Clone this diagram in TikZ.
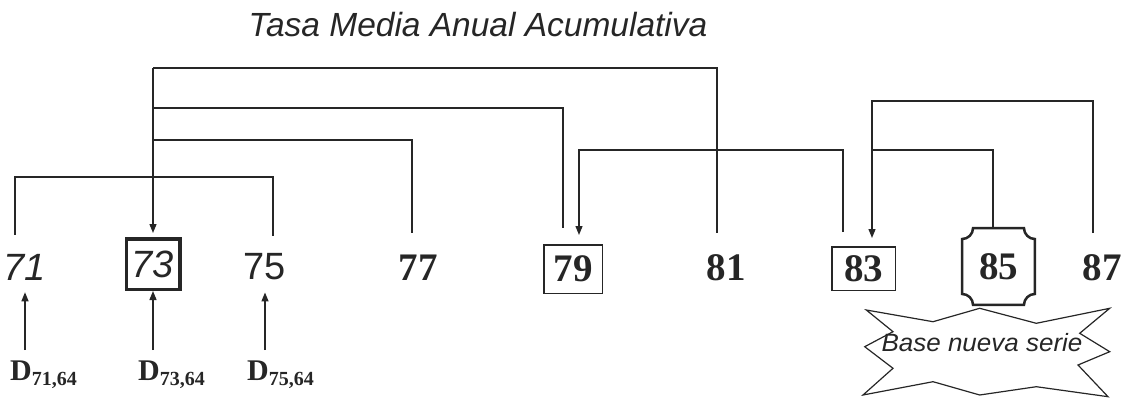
\documentclass[tikz,border=0pt]{standalone}
\usepackage{fontspec}
\setmainfont{Liberation Serif}
\newfontfamily\hsans{Liberation Sans}
\newfontfamily\hsansw[FakeStretch=1.04]{Liberation Sans}
\usetikzlibrary{arrows.meta}
\begin{document}
\begin{tikzpicture}[x=1pt,y=-1pt,
  wire/.style={line width=1.3pt, draw=black!85},
  arr/.style={wire, -{Triangle[length=9pt,width=7pt]}},
  sansit/.style={font=\fontsize{38}{38}\hsans\itshape, text=black!85, inner sep=0pt},
  sansup/.style={font=\fontsize{38}{38}\hsans, text=black!85, inner sep=0pt},
  serifnum/.style={font=\fontsize{39}{39}\selectfont\bfseries, text=black!85, inner sep=0pt},
  dlab/.style={font=\fontsize{30}{30}\selectfont\bfseries, text=black!85, inner sep=0pt, anchor=base west},
  boxthin/.style={draw=black!85, line width=1.5pt},
]
\useasboundingbox (0,0) rectangle (1123,398);

% title
\node[font=\fontsize{33.5}{33.5}\hsans\itshape, text=black!85, inner sep=0pt] (title) at (478,25) {Tasa Media Anual Acumulativa};

% year nodes
\node[sansit] (n71) at (25,267) {71};
\node[sansit, draw=black!85, line width=3.5pt, minimum width=53.5pt, minimum height=50.5pt] (n73) at (153,264) {73};
\node[sansup] (n75) at (265,267) {75};
\node[serifnum] (n77) at (418,267.5) {77};
\node[serifnum, boxthin, minimum width=58.5pt, minimum height=48.5pt] (n79) at (573,269) {79};
\node[serifnum] (n81) at (726,267.5) {81};
\node[serifnum, boxthin, minimum width=63.5pt, minimum height=43.5pt] (n83) at (863.5,268.5) {83};
\node[serifnum, minimum width=72.5pt, minimum height=76.5pt] (n85) at (998.5,266.5) {85};
\node[serifnum] (n87) at (1102,267.5) {87};

% octagon around 85
\def\rr{11pt}\def\cc{6pt}
\draw[line width=2.5pt, draw=black!85]
 ([xshift=\rr]n85.north west) -- ([xshift=-\rr]n85.north east)
 .. controls ([xshift=-\rr,yshift=-\cc]n85.north east) and ([xshift=-\cc,yshift=-\rr]n85.north east) .. ([yshift=-\rr]n85.north east)
 -- ([yshift=\rr]n85.south east)
 .. controls ([xshift=-\cc,yshift=\rr]n85.south east) and ([xshift=-\rr,yshift=\cc]n85.south east) .. ([xshift=-\rr]n85.south east)
 -- ([xshift=\rr]n85.south west)
 .. controls ([xshift=\rr,yshift=\cc]n85.south west) and ([xshift=\cc,yshift=\rr]n85.south west) .. ([yshift=\rr]n85.south west)
 -- ([yshift=-\rr]n85.north west)
 .. controls ([xshift=\cc,yshift=-\rr]n85.north west) and ([xshift=\rr,yshift=-\cc]n85.north west) .. cycle;

% D labels
\node[dlab] (d71) at (10,380) {D\raisebox{-5pt}{\fontsize{20}{20}\selectfont 71,64}};
\node[dlab] (d73) at (138,380) {D\raisebox{-5pt}{\fontsize{20}{20}\selectfont 73,64}};
\node[dlab] (d75) at (247,380) {D\raisebox{-5pt}{\fontsize{20}{20}\selectfont 75,64}};

% attach points
\coordinate (c71) at ([xshift=-10pt,yshift=19pt]n71.north);
\coordinate (c75) at ([xshift=8pt,yshift=18pt]n75.north);
\coordinate (c77) at ([xshift=-6pt,yshift=22pt]n77.north);
\coordinate (c79a) at ([xshift=-10pt,yshift=16pt]n79.north);
\coordinate (c79b) at ([xshift=6pt,yshift=9pt]n79.north);
\coordinate (c81) at ([xshift=-9pt,yshift=21pt]n81.north);
\coordinate (c83a) at ([xshift=-20.5pt,yshift=14pt]n83.north);
\coordinate (c83b) at ([xshift=8.5pt,yshift=8pt]n83.north);
\coordinate (c85) at ([xshift=-5.5pt]n85.north);
\coordinate (c87) at ([xshift=-9pt,yshift=21pt]n87.north);
\coordinate (L1) at (0,68);
\coordinate (L2) at (0,108);
\coordinate (L3) at (0,140);
\coordinate (L4) at (0,177);
\coordinate (L5) at (0,150);
\coordinate (L6) at (0,101);

% brackets
\draw[arr] (n73.north |- L1) -- ([yshift=4pt]n73.north);
\draw[wire] (n73.north |- L1) -| (c81);
\draw[wire] (n73.north |- L2) -| (c79a);
\draw[wire] (n73.north |- L3) -| (c77);
\draw[wire] (c71) -- (c71 |- L4) -| (c75);
\draw[arr] (c83a) -- (c83a |- L5) -| (c79b);
\draw[arr] (c87) -- (c87 |- L6) -| (c83b);
\draw[wire] (c85) -- (c85 |- L5) -- (c83b |- L5);

% arrows from D labels
\draw[arr] ([xshift=15pt,yshift=10pt]d71.north west) -- ([yshift=-12pt]n71.south);
\draw[arr] ([xshift=15pt,yshift=10pt]d73.north west) -- (n73.south);
\draw[arr] ([xshift=18pt,yshift=10pt]d75.north west) -- ([yshift=-12pt]n75.south);

% starburst
\draw[line width=1.2pt, draw=black!85]
 (866.3,310) -- (933,321.7) -- (979.7,308.3) -- (1036.3,323.3) -- (1109.7,308.3)
 -- (1079.7,333.3) -- (1109.7,351.7) -- (1078,365) -- (1108,396.7)
 -- (1036.3,386.7) -- (979.7,395) -- (933,381.7) -- (863,395)
 -- (893,368.3) -- (864.7,346.7) -- (893,331.7) -- cycle;
\node[font=\fontsize{25}{25}\hsansw\itshape, text=black!85, inner sep=0pt] (base) at (982,343) {Base nueva serie};
\end{tikzpicture}
\end{document}
